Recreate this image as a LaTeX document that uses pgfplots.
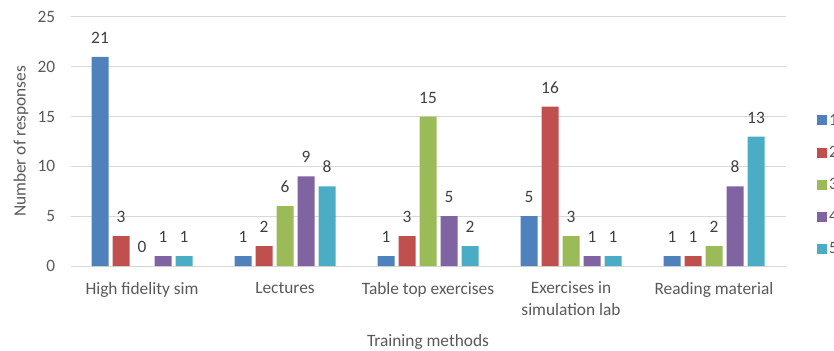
\documentclass[border=0pt]{standalone}
\usepackage{pgfplots}
\pgfplotsset{compat=1.18}
\usepackage{fontspec}
\setmainfont{Carlito}
\definecolor{s1}{HTML}{4F81BD}
\definecolor{s2}{HTML}{C0504D}
\definecolor{s3}{HTML}{9BBB59}
\definecolor{s4}{HTML}{8064A2}
\definecolor{s5}{HTML}{4BACC6}
\definecolor{txt}{HTML}{595959}
\definecolor{gridc}{HTML}{D9D9D9}
\newcommand{\chartfont}{\fontsize{13}{16.5}\selectfont}
\begin{document}
\begin{tikzpicture}[x=0.75pt,y=0.75pt]
\useasboundingbox (0,0) rectangle (834,350);
\begin{axis}[
  at={(70.5pt*0.75,84pt*0.75)}, anchor=south west,
  scale only axis,
  width=536.25pt, height=186.75pt,
  ybar=3pt, bar width=12.75pt,
  xmin=-0.5, xmax=4.5, ymin=0, ymax=25,
  ytick={0,5,...,25},
  xtick={0,1,2,3,4},
  xticklabels={High fidelity sim,Lectures,Table top exercises,{Exercises in\\simulation lab},Reading material},
  xticklabel style={align=center, text=txt, font=\chartfont, yshift=-8.5pt},
  yticklabel style={text=txt, font=\chartfont, xshift=-8pt},
  /pgf/number format/assume math mode=true,
  major tick length=0pt,
  axis line style={draw=none},
  xmajorgrids=false, ymajorgrids=true,
  major grid style={draw=gridc, line width=0.75pt},
  ylabel={Number of responses}, ylabel style={text=txt, font=\chartfont, yshift=0pt},
  xlabel={Training methods}, xlabel style={text=txt, font=\chartfont, yshift=-7pt},
  nodes near coords, every node near coord/.append style={text=black!75, font=\chartfont, yshift=6.5pt},
  legend style={at={(1.044,0.62)}, anchor=north west, draw=none, fill=none,
    font=\chartfont, text=txt, row sep=11.25pt, inner sep=0pt,
    nodes={inner sep=1.5pt}},
  legend cell align=left,
  legend image code/.code={\fill[#1] (0pt,-3.75pt) rectangle (7.5pt,3.75pt);},
]
\addplot[fill=s1, draw=none] coordinates {(0,21) (1,1) (2,1) (3,5) (4,1)};
\addplot[fill=s2, draw=none] coordinates {(0,3) (1,2) (2,3) (3,16) (4,1)};
\addplot[fill=s3, draw=none] coordinates {(0,0) (1,6) (2,15) (3,3) (4,2)};
\addplot[fill=s4, draw=none] coordinates {(0,1) (1,9) (2,5) (3,1) (4,8)};
\addplot[fill=s5, draw=none] coordinates {(0,1) (1,8) (2,2) (3,1) (4,13)};
\legend{1,2,3,4,5}
\end{axis}
\end{tikzpicture}
\end{document}
